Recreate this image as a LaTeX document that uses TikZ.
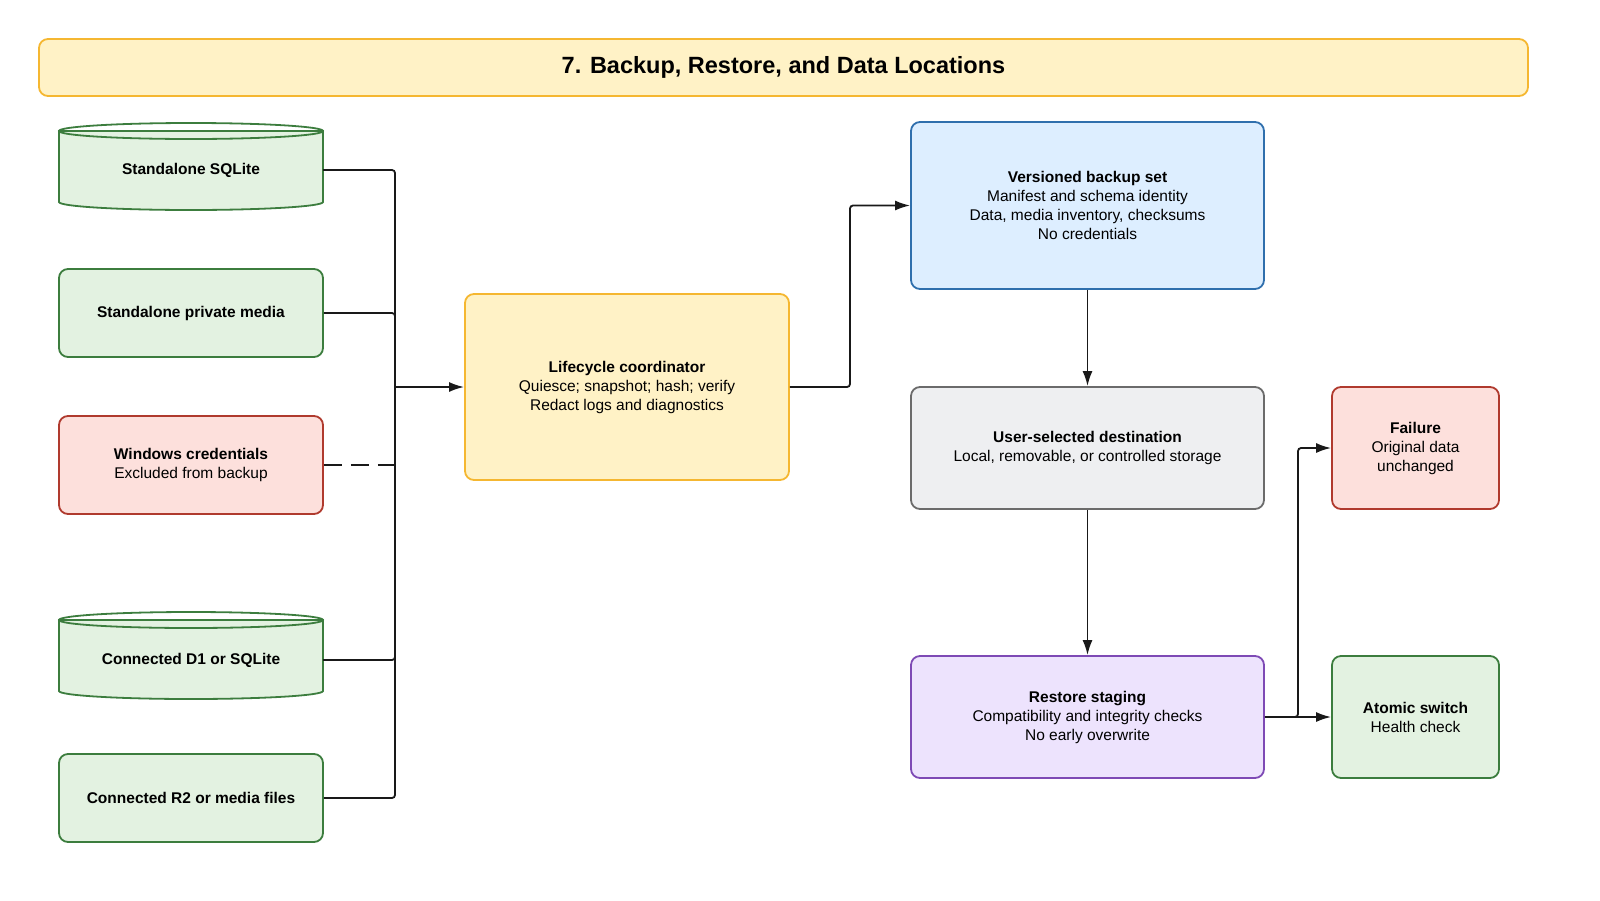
\documentclass[tikz,border=0pt]{standalone}
\usepackage{fontspec}
\setmainfont{Liberation Sans}
\usetikzlibrary{arrows.meta}
\definecolor{gF}{HTML}{E3F2E1}\definecolor{gD}{HTML}{3C7D3E}
\definecolor{rF}{HTML}{FDE0DC}\definecolor{rD}{HTML}{B03A2E}
\definecolor{yF}{HTML}{FFF2C6}\definecolor{yD}{HTML}{F5B731}
\definecolor{bF}{HTML}{DDEEFF}\definecolor{bD}{HTML}{2F6FAD}
\definecolor{aF}{HTML}{EEEFF1}\definecolor{aD}{HTML}{6B6B6B}
\definecolor{pF}{HTML}{EDE3FD}\definecolor{pD}{HTML}{7E4AB5}
\begin{document}
\begin{tikzpicture}[x=1pt,y=-1pt,
 box/.style={draw,line width=1.8pt,rounded corners=9pt,align=center,inner sep=0pt,font=\fontsize{15.5}{19}\selectfont},
 lab/.style={align=center,font=\fontsize{15.5}{19}\selectfont},
 con/.style={line width=1.8pt,draw=black!90,rounded corners=3pt},
 arr/.style={con,-{Latex[length=15pt,width=10pt]}}]
\useasboundingbox (0,0) rectangle (1600,900);
\node[box,draw=yD,fill=yF,minimum width=1489pt,minimum height=57pt,font=\fontsize{23.5}{26}\selectfont\bfseries] (title) at (783.5,67.5) {7. Backup, Restore, and Data Locations};
% cylinders
\foreach \t in {123,612}{
 \filldraw[fill=gF,draw=gD,line width=1.8pt] (59,\t+8) -- (59,\t+79) arc[start angle=180,end angle=0,x radius=132,y radius=8] -- (323,\t+8) -- cycle;
 \draw[gD,line width=1.8pt] (191,\t+8) ellipse[x radius=132,y radius=8];
}
\node[lab,minimum width=264pt,minimum height=87pt] (sql) at (191,170) {\textbf{Standalone SQLite}};
\node[lab,minimum width=264pt,minimum height=87pt] (d1) at (191,660) {\textbf{Connected D1 or SQLite}};
\node[box,draw=gD,fill=gF,minimum width=264pt,minimum height=88pt] (med) at (191,313) {\textbf{Standalone private media}};
\node[box,draw=rD,fill=rF,minimum width=264pt,minimum height=98pt] (win) at (191,465) {\textbf{Windows credentials}\\Excluded from backup};
\node[box,draw=gD,fill=gF,minimum width=264pt,minimum height=88pt] (r2) at (191,798) {\textbf{Connected R2 or media files}};
\node[box,draw=yD,fill=yF,minimum width=324pt,minimum height=186pt] (lc) at (627,387) {\textbf{Lifecycle coordinator}\\Quiesce; snapshot; hash; verify\\Redact logs and diagnostics};
\node[box,draw=bD,fill=bF,minimum width=353pt,minimum height=167pt] (vb) at (1087.5,205.5) {\textbf{Versioned backup set}\\Manifest and schema identity\\Data, media inventory, checksums\\No credentials};
\node[box,draw=aD,fill=aF,minimum width=353pt,minimum height=122pt] (us) at (1087.5,448) {\textbf{User-selected destination}\\Local, removable, or controlled storage};
\node[box,draw=pD,fill=pF,minimum width=353pt,minimum height=122pt] (rs) at (1087.5,717) {\textbf{Restore staging}\\Compatibility and integrity checks\\No early overwrite};
\node[box,draw=rD,fill=rF,minimum width=167pt,minimum height=122pt] (fa) at (1415.5,448) {\textbf{Failure}\\Original data\\unchanged};
\node[box,draw=gD,fill=gF,minimum width=167pt,minimum height=122pt] (at) at (1415.5,717) {\textbf{Atomic switch}\\Health check};
\coordinate (j) at (395,387);
\draw[con] (sql.east) -| (j);
\draw[con] (med.east) -| (j);
\draw[con] (d1.east) -| (j);
\draw[con] (r2.east) -| (j);
\draw[con,dash pattern=on 18pt off 9pt,rounded corners=0pt] (win.east) -- (395,465);
\draw[con] (395,465) -- (j);
\draw[arr] (j) -- (lc.west);
\draw[arr] (lc.east) -- (850,387) |- (vb.west);
\draw[arr] (vb.south) -- (us.north);
\draw[arr] (us.south) -- (rs.north);
\draw[arr] (rs.east) -- (at.west);
\draw[arr] (rs.east) -- (1298,717) |- (fa.west);
\end{tikzpicture}
\end{document}
